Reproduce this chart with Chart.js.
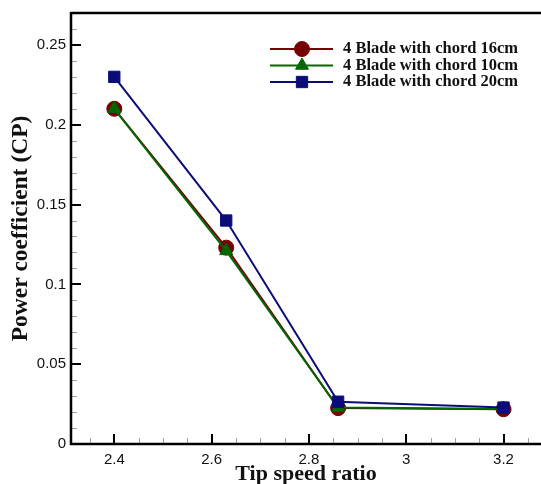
<!DOCTYPE html>
<html>
<head>
<meta charset="utf-8">
<script src="https://cdn.jsdelivr.net/npm/chart.js@4/dist/chart.umd.min.js"></script>
<style>
html,body{margin:0;padding:0;background:#fff;}
canvas{display:block;}
</style>
</head>
<body>
<canvas id="c" width="541" height="484"></canvas>
<script>
// ---- data ----
const X_VALUES = [2.4, 2.63, 2.86, 3.2];           // tip speed ratio
const CP_16 = [0.21, 0.123, 0.0225, 0.0218];        // 4 Blade with chord 16cm
const CP_10 = [0.21, 0.121, 0.0228, 0.0220];        // 4 Blade with chord 10cm
const CP_20 = [0.23, 0.140, 0.0265, 0.0228];        // 4 Blade with chord 20cm
const SERIES_NAMES = ['4 Blade with chord 16cm', '4 Blade with chord 10cm', '4 Blade with chord 20cm'];
const X_TICKS = [2.4, 2.6, 2.8, 3, 3.2];
const X_TICK_LABELS = ['2.4', '2.6', '2.8', '3', '3.2'];
const Y_TICKS = [0, 0.05, 0.1, 0.15, 0.2, 0.25];
const Y_TICK_LABELS = ['0', '0.05', '0.1', '0.15', '0.2', '0.25'];
const X_TITLE = 'Tip speed ratio';
const Y_TITLE = 'Power coefficient (CP)';

const COLORS = ['#780000', '#006800', '#0c0c78'];
const STYLES = [
  {pointStyle: 'circle', radius: 7.5},
  {pointStyle: 'triangle', radius: 7.5},
  {pointStyle: 'rect', radius: 8}
];
const SERIES = [CP_16, CP_10, CP_20];

function pts(ys){ return X_VALUES.map((x,i)=>({x:x, y:ys[i]})); }

const datasets = SERIES.map((ys, i) => ({
  label: SERIES_NAMES[i],
  data: pts(ys),
  borderColor: COLORS[i],
  backgroundColor: COLORS[i],
  borderWidth: 2,
  pointStyle: STYLES[i].pointStyle,
  pointRadius: STYLES[i].radius,
  pointBorderWidth: 1,
  pointBorderColor: COLORS[i],
  pointBackgroundColor: COLORS[i],
  tension: 0,
  clip: false,
  order: 2 - i
}));

const frame = {
  id: 'frame',
  afterDraw(chart){
    const ctx = chart.ctx;
    const a = chart.chartArea;
    const xs = chart.scales.x, ys = chart.scales.y;
    ctx.save();
    // minor ticks
    ctx.strokeStyle = '#a0a0a0';
    ctx.lineWidth = 1;
    ctx.beginPath();
    for (let k = Math.ceil(xs.min / 0.05); k * 0.05 <= xs.max; k++) {
      const v = k * 0.05;
      if (X_TICKS.some(t => Math.abs(t - v) < 1e-6)) continue;
      const px = Math.round(xs.getPixelForValue(v)) + 0.5;
      ctx.moveTo(px, a.bottom); ctx.lineTo(px, a.bottom - 6);
    }
    for (let k = 1; k * 0.01 <= ys.max + 1e-9; k++) {
      const v = k * 0.01;
      if (Y_TICKS.some(t => Math.abs(t - v) < 1e-6)) continue;
      const py = Math.round(ys.getPixelForValue(v)) + 0.5;
      ctx.moveTo(a.left, py); ctx.lineTo(a.left + 6, py);
    }
    ctx.stroke();
    // major ticks
    ctx.strokeStyle = '#000';
    ctx.lineWidth = 2;
    ctx.beginPath();
    X_TICKS.forEach(v => {
      const px = Math.round(xs.getPixelForValue(v));
      ctx.moveTo(px, a.bottom); ctx.lineTo(px, a.bottom - 10);
    });
    Y_TICKS.forEach(v => {
      const py = Math.round(ys.getPixelForValue(v));
      ctx.moveTo(a.left, py); ctx.lineTo(a.left + 10, py);
    });
    ctx.stroke();
    // frame lines
    ctx.lineWidth = 2.5;
    ctx.beginPath();
    ctx.moveTo(a.left, a.top); ctx.lineTo(a.right + 2, a.top);
    ctx.moveTo(a.left, a.top - 1); ctx.lineTo(a.left, a.bottom);
    ctx.lineTo(a.right + 2, a.bottom);
    ctx.stroke();

    // legend
    const rowsY = [49, 65.5, 82];
    const lx0 = 270, lx1 = 333, mx = 302, tx = 343;
    ctx.font = 'bold 16.5px "Liberation Serif", serif';
    ctx.textBaseline = 'middle';
    ctx.textAlign = 'left';
    chart.data.datasets.forEach((ds, i) => {
      const y = rowsY[i];
      ctx.strokeStyle = ds.borderColor;
      ctx.lineWidth = 2;
      ctx.beginPath(); ctx.moveTo(lx0, y); ctx.lineTo(lx1, y); ctx.stroke();
      ctx.fillStyle = ds.backgroundColor;
      ctx.strokeStyle = ds.borderColor;
      ctx.lineWidth = 1;
      Chart.helpers.drawPoint(ctx, {pointStyle: ds.pointStyle, radius: ds.pointRadius, rotation: 0, borderWidth: 1}, mx, y);
      ctx.fillStyle = '#111';
      ctx.fillText(ds.label, tx, y);
    });
    ctx.restore();
  }
};

new Chart(document.getElementById('c'), {
  type: 'line',
  data: { datasets: datasets },
  options: {
    responsive: false,
    animation: false,
    devicePixelRatio: 1,
    layout: { autoPadding: false, padding: {top: 13, left: 0, right: 0, bottom: 0} },
    plugins: { legend: {display: false}, tooltip: {enabled: false} },
    scales: {
      x: {
        type: 'linear',
        min: 2.311, max: 3.277,
        afterBuildTicks: s => { s.ticks = X_TICKS.map(v => ({value: v})); },
        afterFit: s => { s.height = 40; s.paddingLeft = 0; s.paddingRight = 0; },
        grid: {display: false, drawTicks: false},
        border: {display: false},
        ticks: {
          padding: 7,
          color: '#111',
          font: {family: '"Liberation Sans", Arial, sans-serif', size: 15},
          maxRotation: 0,
          callback: (v, i) => X_TICK_LABELS[i]
        },
        title: {
          display: true, text: X_TITLE, color: '#111',
          font: {family: '"Liberation Serif", serif', size: 22, weight: 'bold'},
          padding: {top: 0, bottom: -4}
        }
      },
      y: {
        type: 'linear',
        min: 0, max: 0.27,
        afterBuildTicks: s => { s.ticks = Y_TICKS.map(v => ({value: v})); },
        afterFit: s => { s.width = 71; s.paddingTop = 0; s.paddingBottom = 0; },
        grid: {display: false, drawTicks: false},
        border: {display: false},
        ticks: {
          padding: 5,
          color: '#111',
          font: {family: '"Liberation Sans", Arial, sans-serif', size: 15},
          callback: (v, i) => Y_TICK_LABELS[i]
        },
        title: {
          display: true, text: Y_TITLE, color: '#111',
          font: {family: '"Liberation Serif", serif', size: 23.5, weight: 'bold'},
          padding: {top: 7, bottom: 0}
        }
      }
    }
  },
  plugins: [frame]
});
</script>
</body>
</html>
